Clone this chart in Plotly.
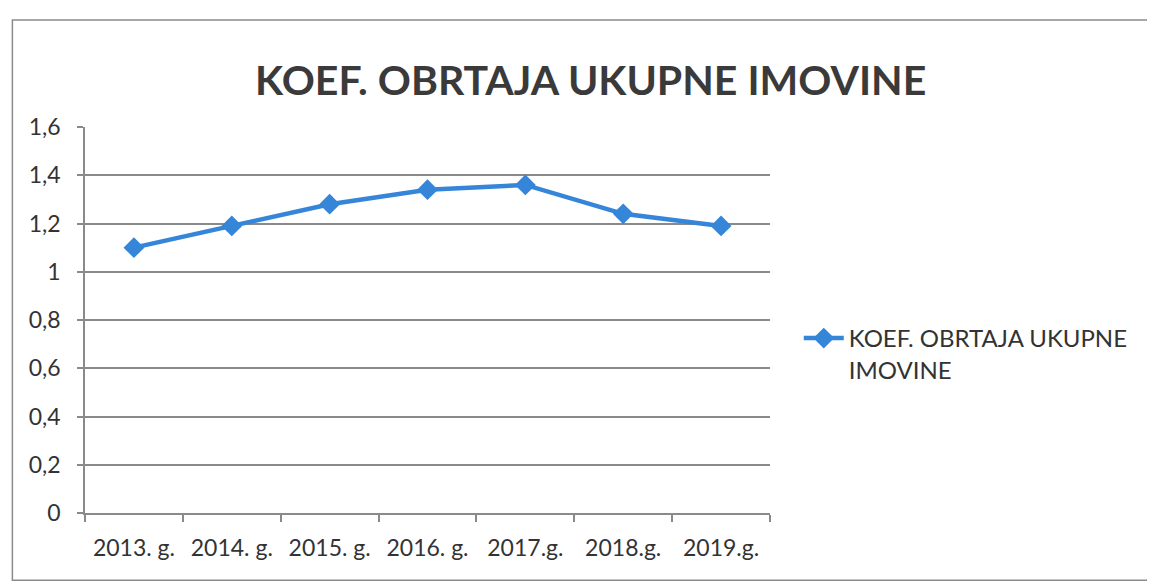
import plotly.graph_objects as go

years = ['2013. g.', '2014. g.', '2015. g.', '2016. g.', '2017.g.', '2018.g.', '2019.g.']
koef = [1.10, 1.19, 1.28, 1.34, 1.36, 1.24, 1.19]
y_ticks = [0, 0.2, 0.4, 0.6, 0.8, 1.0, 1.2, 1.4, 1.6]

series_name = 'KOEF. OBRTAJA UKUPNE<br>IMOVINE'
title_text = 'KOEF. OBRTAJA UKUPNE IMOVINE'

font_family = 'Lato, Open Sans, sans-serif'
blue = '#3585d8'
grey = '#8a8a8a'

fig = go.Figure()

fig.add_trace(go.Scatter(
    x=years,
    y=koef,
    mode='lines+markers',
    name=series_name,
    line=dict(color=blue, width=4.5),
    marker=dict(symbol='diamond', size=16, color=blue),
))

# frame around the whole chart (Excel chart border)
fig.add_shape(
    type='rect', xref='paper', yref='paper',
    x0=-0.106, x1=1.555, y0=-0.174, y1=1.277,
    line=dict(color=grey, width=1.5),
)

# page body has an 8px margin, so the figure is 8px smaller and shifted
fig.update_layout(
    width=1147, height=579,
    margin=dict(l=77, r=385, t=119, b=74),
    paper_bgcolor='white',
    plot_bgcolor='white',
    separators=', ',
    font=dict(family=font_family, size=23, color='#333333'),
    title=dict(
        text=title_text,
        x=0.508, xanchor='center',
        y=0.875, yanchor='middle',
        font=dict(family=font_family, size=41, color='#3a3a3a', weight='bold'),
    ),
    showlegend=True,
    legend=dict(
        x=1.042, xanchor='left',
        y=0.412, yanchor='middle',
        valign='top',
        font=dict(size=24, color='#333333'),
        itemwidth=40,
    ),
    xaxis=dict(
        type='category',
        tickson='boundaries',
        ticks='outside', ticklen=7, tickcolor=grey, tickwidth=1.5,
        showline=True, linecolor=grey, linewidth=1.5,
        showgrid=False,
        ticklabelstandoff=14,
        range=[-0.5, 6.5],
    ),
    yaxis=dict(
        range=[0, 1.6],
        tickvals=y_ticks,
        ticks='outside', ticklen=6, tickcolor=grey, tickwidth=1.5,
        showline=True, linecolor=grey, linewidth=1.5,
        showgrid=True, gridcolor=grey, gridwidth=1.5,
        zeroline=False,
        ticklabelstandoff=12,
    ),
)

fig.write_html('out.html')
